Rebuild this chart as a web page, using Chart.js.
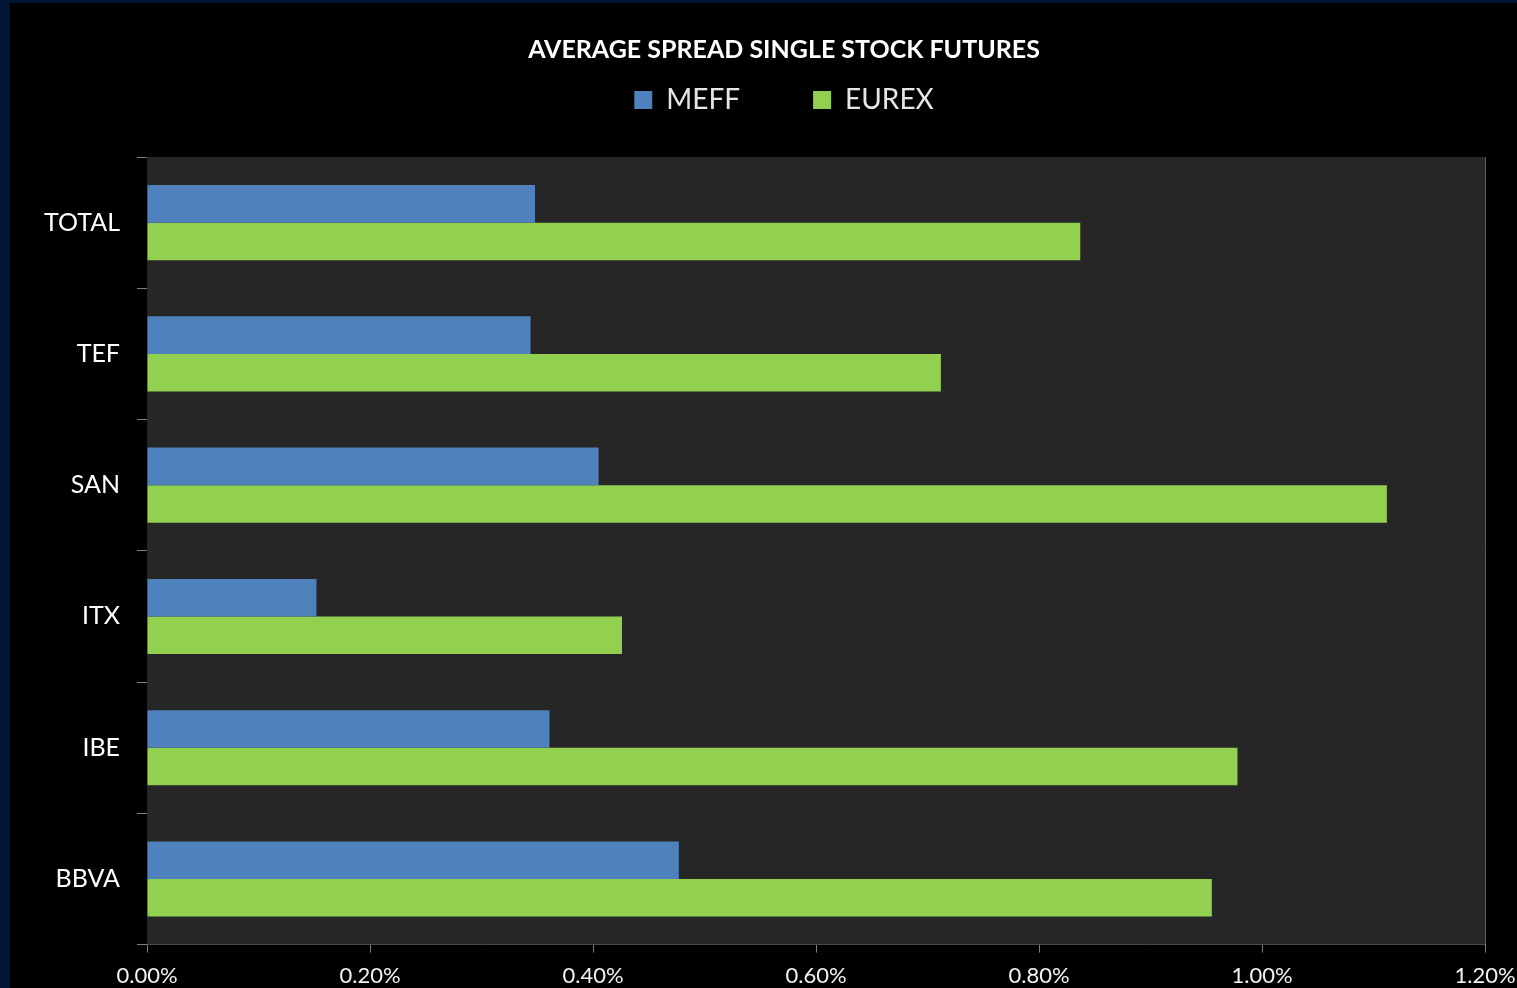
<!DOCTYPE html>
<html>
<head>
<meta charset="utf-8">
<script src="https://cdn.jsdelivr.net/npm/chart.js@4/dist/chart.umd.min.js"></script>
<style>
  html, body { margin: 0; padding: 0; background: #000; overflow: hidden; width: 1517px; height: 988px; }
  #frameLeft { position: absolute; left: 0; top: 0; width: 10px; height: 988px; background: #021634; z-index: 2; }
  #frameTop { position: absolute; left: 0; top: 0; width: 1517px; height: 3px; background: #021634; z-index: 2; }
  #wrap { position: absolute; left: 10px; top: 3px; width: 1548px; height: 996px; }
</style>
</head>
<body>
<div id="frameLeft"></div>
<div id="frameTop"></div>
<div id="wrap"><canvas id="chart_spread"></canvas></div>
<script>
// values, in percent
const categories = ["TOTAL", "TEF", "SAN", "ITX", "IBE", "BBVA"];
const meffSpread = [0.348, 0.344, 0.405, 0.152, 0.361, 0.477];
const eurexSpread = [0.837, 0.712, 1.112, 0.426, 0.978, 0.955];
const xTicks = [0, 0.2, 0.4, 0.6, 0.8, 1.0, 1.2];

const FONT = "Lato, 'Open Sans', sans-serif";
const LEGEND_H = 144;
const HEAD_SHIFT = 36.5;

// plot background, legend height and title/legend centring
const plotBg = {
	id: "plotBg",
	beforeUpdate(chart){
		const legend = chart.legend;
		if(legend && !legend._fixed){
			const fit = legend.fit;
			legend.fit = function(){
				fit.call(this);
				this.height = LEGEND_H;
			};
			legend._fixed = true;
		}
	},
	afterLayout(chart){
		[chart.titleBlock, chart.legend].forEach(function(box){
			if(!box) return;
			box.left += HEAD_SHIFT;
			box.right += HEAD_SHIFT;
		});
	},
	beforeDatasetsDraw(chart){
		const a = chart.chartArea;
		const ctx = chart.ctx;
		ctx.save();
		ctx.fillStyle = "#262626";
		ctx.fillRect(a.left, a.top, a.right - a.left, a.bottom - a.top);
		ctx.restore();
	}
};

const ctx = document.getElementById("chart_spread").getContext("2d");
const chart_spread = new Chart(ctx, {
	type: "bar",
	data: {
		labels: categories,
		datasets: [{
			label: "MEFF",
			backgroundColor: "#4f81bd",
			borderWidth: 0,
			data: meffSpread
		},
		{
			label: "EUREX",
			backgroundColor: "#92d050",
			borderWidth: 0,
			data: eurexSpread
		}]
	},
	options: {
		indexAxis: "y",
		responsive: true,
		maintainAspectRatio: false,
		animation: false,
		categoryPercentage: 0.572,
		barPercentage: 1.0,
		layout: { padding: { left: 0, right: 73, top: 0, bottom: 0 } },
		plugins: {
			tooltip: { enabled: false },
			title: {
				display: true,
				text: "AVERAGE SPREAD SINGLE STOCK FUTURES",
				color: "#ffffff",
				font: { family: FONT, size: 25, weight: "bold" },
				padding: { top: 32, bottom: -52 }
			},
			legend: {
				display: true,
				position: "top",
				labels: {
					color: "#e6e6e6",
					font: { family: FONT, size: 28 },
					boxWidth: 18,
					boxHeight: 18,
					padding: 73
				}
			}
		},
		scales: {
			x: {
				min: 0,
				max: 1.2,
				afterBuildTicks(scale){
					scale.ticks = xTicks.map(v => ({ value: v }));
				},
				grid: {
					color: "#5a5a5a",
					lineWidth: 1,
					tickLength: 8,
					tickColor: "#808080"
				},
				border: { color: "#808080", width: 1 },
				ticks: {
					color: "#f2f2f2",
					font: { family: FONT, size: 22 },
					padding: 10,
					maxRotation: 0,
					callback: (v) => Number(v).toFixed(2) + "%"
				}
			},
			y: {
				afterFit(scale){ scale.width = 137; },
				grid: {
					drawOnChartArea: false,
					offset: true,
					tickLength: 10,
					tickColor: "#808080"
				},
				border: { color: "#808080", width: 1 },
				ticks: {
					color: "#ffffff",
					font: { family: FONT, size: 25 },
					padding: 17
				}
			}
		}
	},
	plugins: [plotBg]
});
</script>
</body>
</html>
